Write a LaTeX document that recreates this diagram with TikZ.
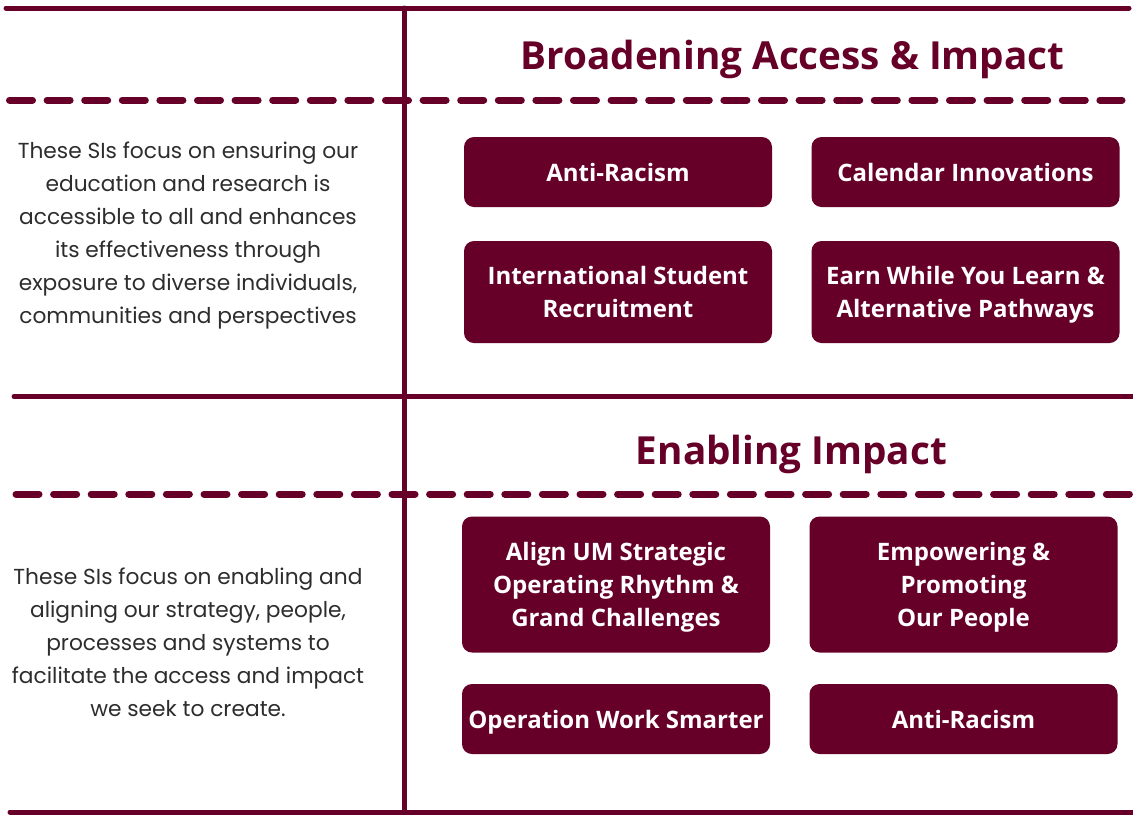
\documentclass[tikz,border=0pt]{standalone}
\usepackage{fontspec}
\setmainfont{Open Sans}
\newfontfamily\bodyfont{Poppins}
\definecolor{maroon}{RGB}{102,0,40}
\definecolor{bodygray}{RGB}{45,45,45}
\begin{document}
\begin{tikzpicture}[x=0.75pt,y=-0.75pt,
  solidline/.style={draw=maroon, line width=3.75pt, line cap=round},
  dashline/.style={draw=maroon, line width=5.25pt, line cap=round, dash pattern=on 17.25pt off 10.95pt},
  item/.style={fill=maroon, rounded corners=7.5pt, text=white, font=\bfseries\fontsize{18}{25}\selectfont,
    align=center, inner sep=0pt, minimum width=231pt, text depth=0pt},
  title/.style={text=maroon, font=\bfseries\fontsize{29}{34}\selectfont, inner sep=0pt, text depth=0pt},
  desc/.style={text=bodygray, font=\bodyfont\fontsize{16.3}{24.75}\selectfont, align=center, inner sep=0pt}]
\useasboundingbox (0,0) rectangle (1133,815);
\fill[white] (0,0) rectangle (1133,815);

% grid lines
\draw[solidline] (6,8) -- (1129,8);
\draw[solidline] (404,8) -- (404,812);
\draw[dashline] (9.5,100) -- (1122,100);
\draw[solidline] (14,396.5) -- (1145,396.5);
\draw[dashline] (16,494) -- (1145,494);
\draw[solidline] (10,812) -- (1145,812);

% titles
\node[title] (t1) at (792.5,55) {Broadening Access \& Impact};
\node[title] (t2) at (791.5,450) {Enabling Impact};

% descriptions
\node[desc] (d1) at (188,236) {These SIs focus on ensuring our\\education and research is\\accessible to all and enhances\\its effectiveness through\\exposure to diverse individuals,\\communities and perspectives};
\node[desc] (d2) at (188,642) {These SIs focus on enabling and\\aligning our strategy, people,\\processes and systems to\\facilitate the access and impact\\we seek to create.};

% boxes
\node[item, minimum height=52.5pt] (b1) at (618,172) {Anti-Racism};
\node[item, minimum height=52.5pt] (b2) at (965.5,172) {Calendar Innovations};
\node[item, minimum height=76.5pt] (b3) at (618,292) {International Student\\Recruitment};
\node[item, minimum height=76.5pt] (b4) at (965.5,292) {Earn While You Learn \&\\Alternative Pathways};
\node[item, minimum height=102pt] (b5) at (616,584.5) {Align UM Strategic\\Operating Rhythm \&\\Grand Challenges};
\node[item, minimum height=102pt] (b6) at (963.5,584.5) {Empowering \&\\Promoting\\Our People};
\node[item, minimum height=52.5pt] (b7) at (616,719) {Operation Work Smarter};
\node[item, minimum height=52.5pt] (b8) at (963.5,719) {Anti-Racism};
\end{tikzpicture}
\end{document}
